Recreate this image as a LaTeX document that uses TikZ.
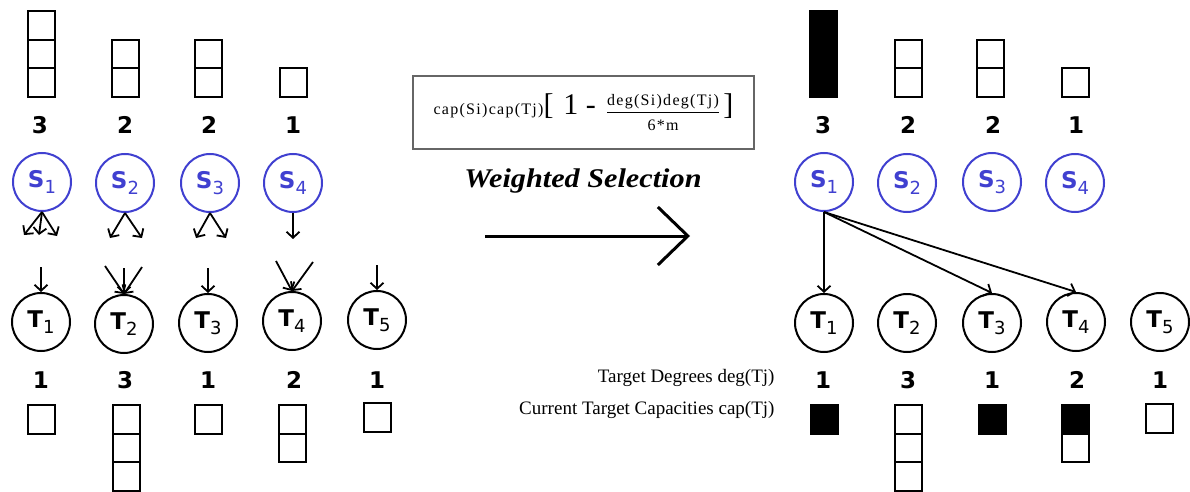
\documentclass[tikz,border=0pt]{standalone}
\usepackage{fontspec}
\setmainfont{Liberation Serif}
\newfontfamily\numfont{DejaVu Sans}
\usetikzlibrary{arrows.meta,calc}

\definecolor{srcblue}{RGB}{64,64,208}

\tikzset{
  cell/.style={draw=black, line width=2pt},
  srcnode/.style={circle, draw=srcblue, text=srcblue, line width=2pt, minimum size=58pt, inner sep=0pt},
  tgtnode/.style={circle, draw=black, line width=2pt, minimum size=58pt, inner sep=0pt},
  degree/.style={anchor=base, font=\numfont\bfseries\fontsize{23}{23}\selectfont},
  link/.style={-{Straight Barb[length=6pt,width=13pt]}, line width=1.8pt},
  bigarrow/.style={-{Straight Barb[length=30pt,width=58pt]}, line width=3pt},
  rowlabel/.style={anchor=base east, font=\fontsize{19}{19}\selectfont},
}

\newcommand{\capcells}[3]{\foreach \col [count=\i from 0] in {#3} \draw[cell, fill=\col] (#1-13.5,#2+\i*28.5) rectangle ++(27,28.5);}
\newcommand{\sublbl}[2]{{\numfont\bfseries\fontsize{23}{23}\selectfont #1}\raisebox{-6pt}{\numfont\fontsize{18}{18}\selectfont #2}}
\newcommand{\spaced}[2]{{\fontsize{#1}{#1}\selectfont\addfontfeature{LetterSpace=8}#2}}

\begin{document}
\begin{tikzpicture}[x=1pt, y=-1pt]
\useasboundingbox (0,0) rectangle (1190,492);
\capcells{41}{11.5}{white,white,white}
\capcells{125.5}{40}{white,white}
\capcells{208}{40}{white,white}
\capcells{293}{68.5}{white}
\node[degree] at (40,133) {3};
\node[degree] at (125,133) {2};
\node[degree] at (209,133) {2};
\node[degree] at (293,133) {1};
\node[srcnode] (s1) at (42,182) {\sublbl{S}{1}};
\node[srcnode] (s2) at (125,183) {\sublbl{S}{2}};
\node[srcnode] (s3) at (210,183) {\sublbl{S}{3}};
\node[srcnode] (s4) at (293,183) {\sublbl{S}{4}};
\draw[link] (s1.south) -- ++(-18,23);
\draw[link] (s1.south) -- ++(-3,23);
\draw[link] (s1.south) -- ++(15,24);
\draw[link] (s2.south) -- ++(-15,25);
\draw[link] (s2.south) -- ++(17,25);
\draw[link] (s3.south) -- ++(-14,25);
\draw[link] (s3.south) -- ++(16,25);
\draw[link] (s4.south) -- ++(0,26);
\node[tgtnode] (t1) at (41,322) {\sublbl{T}{1}};
\node[tgtnode] (t2) at (124,324) {\sublbl{T}{2}};
\node[tgtnode] (t3) at (208,323) {\sublbl{T}{3}};
\node[tgtnode] (t4) at (292,321) {\sublbl{T}{4}};
\node[tgtnode] (t5) at (377,320) {\sublbl{T}{5}};
\draw[link] ($(t1.north)+(0,-25)$) -- (t1.north);
\draw[link] ($(t2.north)+(-19,-28)$) -- (t2.north);
\draw[link] ($(t2.north)+(0,-26)$) -- (t2.north);
\draw[link] ($(t2.north)+(18,-27)$) -- (t2.north);
\draw[link] ($(t3.north)+(0,-25)$) -- (t3.north);
\draw[link] ($(t4.north)+(-16,-30)$) -- (t4.north);
\draw[link] ($(t4.north)+(21,-29)$) -- (t4.north);
\draw[link] ($(t5.north)+(0,-25)$) -- (t5.north);
\node[degree] at (41,388) {1};
\node[degree] at (125,388) {3};
\node[degree] at (208,388) {1};
\node[degree] at (294,388) {2};
\node[degree] at (377,388) {1};
\capcells{41.5}{405}{white}
\capcells{126}{405}{white,white,white}
\capcells{208}{405}{white}
\capcells{292.5}{405}{white,white}
\capcells{377}{403}{white}
\node[draw=black!60, line width=1.2pt, minimum width=341pt, minimum height=73pt, inner sep=0pt] (formula) at (583.5,112.5)
  {\spaced{16}{cap(Si)cap(Tj)}{\fontsize{30}{30}\selectfont[\,\,1 -\,\,}$\displaystyle\frac{\mbox{\spaced{16}{deg(Si)deg(Tj)}}\rule[-5pt]{0pt}{5pt}}{\rule{0pt}{17pt}\mbox{\spaced{16}{6*m}}}$\,\,{\fontsize{30}{30}\selectfont]}};
\node (wsel) at (583,181) {\scalebox{1.12}[1]{\fontsize{27}{27}\selectfont\bfseries\itshape Weighted Selection}};
\coordinate (go) at (485,236);
\coordinate (goend) at (690,236);
\draw[bigarrow] (go) -- (goend);
\capcells{823.5}{11.5}{black,black,black}
\capcells{908.5}{40}{white,white}
\capcells{990.5}{40}{white,white}
\capcells{1075.5}{68.5}{white}
\node[degree] at (823,133) {3};
\node[degree] at (908,133) {2};
\node[degree] at (993,133) {2};
\node[degree] at (1076,133) {1};
\node[srcnode] (rs1) at (824,182) {\sublbl{S}{1}};
\node[srcnode] (rs2) at (907,183) {\sublbl{S}{2}};
\node[srcnode] (rs3) at (992,182) {\sublbl{S}{3}};
\node[srcnode] (rs4) at (1075,183) {\sublbl{S}{4}};
\node[tgtnode] (rt1) at (824,323) {\sublbl{T}{1}};
\node[tgtnode] (rt2) at (907,323) {\sublbl{T}{2}};
\node[tgtnode] (rt3) at (992,323) {\sublbl{T}{3}};
\node[tgtnode] (rt4) at (1076,322) {\sublbl{T}{4}};
\node[tgtnode] (rt5) at (1160,322) {\sublbl{T}{5}};
\draw[link] (rs1.south) -- (rt1.north);
\draw[link] (rs1.south) -- (rt3.north);
\draw[link] (rs1.south) -- (rt4.north);
\node[rowlabel] (degtext) at (778,382) {Target Degrees deg(Tj)};
\node[rowlabel] (captext) at (778,414) {Current Target Capacities cap(Tj)};
\node[degree] at (823,388) {1};
\node[degree] at (908,388) {3};
\node[degree] at (992,388) {1};
\node[degree] at (1077,388) {2};
\node[degree] at (1160,388) {1};
\capcells{824}{405}{black}
\capcells{908}{405}{white,white,white}
\capcells{992}{405}{black}
\capcells{1075.5}{405}{black,white}
\capcells{1159.5}{404}{white}
\end{tikzpicture}
\end{document}
